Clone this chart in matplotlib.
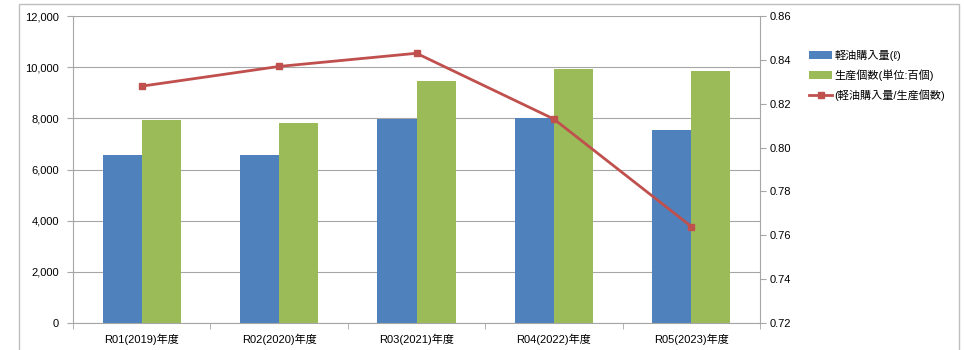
import numpy as np
import matplotlib.pyplot as plt

plt.rcParams['font.family'] = ['Liberation Sans', 'Noto Sans CJK JP', 'DejaVu Sans']

years = ["R01(2019)年度", "R02(2020)年度", "R03(2021)年度", "R04(2022)年度", "R05(2023)年度"]
fuel = [6570, 6570, 7975, 8015, 7545]
units = [7935, 7820, 9460, 9925, 9850]
ratio = [0.828, 0.837, 0.843, 0.813, 0.764]

blue = "#4F81BD"
green = "#9BBB59"
red = "#C0504D"
grid = "#A6A6A6"

fig = plt.figure(figsize=(9.64, 3.5), dpi=100)
fig.patches.append(plt.Rectangle((19 / 964, -0.1), 940 / 964, 1.09, transform=fig.transFigure,
                                 fill=False, edgecolor="#BFBFBF", lw=1))
ax = fig.add_axes([73 / 964, 1 - 323 / 350, 687 / 964, 307 / 350])
ax2 = ax.twinx()

x = np.arange(len(years))
w = 0.285
b1 = ax.bar(x - w / 2, fuel, w, color=blue, label="軽油購入量(ℓ)", zorder=2)
b2 = ax.bar(x + w / 2, units, w, color=green, label="生産個数(単位:百個)", zorder=2)
l1, = ax2.plot(x, ratio, color=red, lw=2, marker="s", ms=5, label="(軽油購入量/生産個数)")

ax.set_xlim(-0.5, len(years) - 0.5)
ax.set_ylim(0, 12000)
ax.set_yticks(np.arange(0, 12001, 2000))
ax.set_yticklabels([f"{v:,}" for v in range(0, 12001, 2000)])
ax.yaxis.grid(True, color=grid, lw=0.8, zorder=0)
ax.set_xticks(x)
ax.set_xticklabels(years)
ax.set_xticks(np.arange(-0.5, len(years), 1), minor=True)
ax.tick_params(axis="x", which="major", length=0, pad=8, labelsize=8)
ax.tick_params(axis="x", which="minor", length=4, color=grid)
ax.tick_params(axis="y", length=4, color=grid, labelsize=8, pad=6)

ax2.set_ylim(0.72, 0.86)
ax2.set_yticks(np.arange(0.72, 0.861, 0.02))
ax2.set_yticklabels([f"{v:.2f}" for v in np.arange(0.72, 0.861, 0.02)])
ax2.tick_params(axis="y", length=4, color=grid, labelsize=8, pad=3)

for a in (ax, ax2):
    for s in a.spines.values():
        s.set_visible(False)
ax.spines["left"].set_visible(True)
ax.spines["left"].set_color(grid)
ax.spines["bottom"].set_visible(True)
ax.spines["bottom"].set_color(grid)
ax2.spines["right"].set_visible(True)
ax2.spines["right"].set_color(grid)

fig.legend(handles=[b1, b2, l1], loc="upper left", bbox_to_anchor=(799 / 964, 1 - 40 / 350),
           frameon=False, fontsize=8, handlelength=2.1, labelspacing=0.75, handletextpad=0.2)

fig.savefig("out.png", dpi=100)
